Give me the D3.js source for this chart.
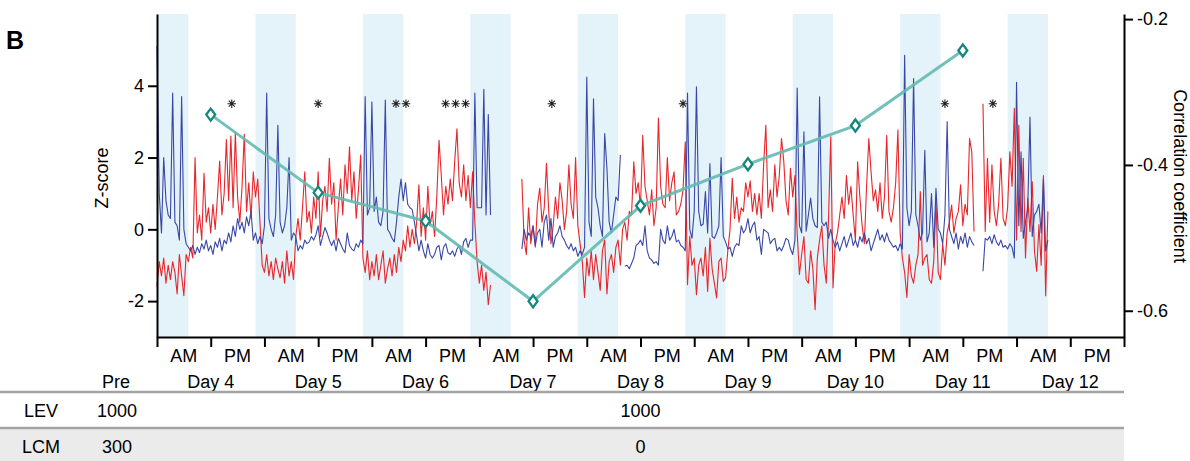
<!DOCTYPE html>
<html>
<head>
<meta charset="utf-8">
<script src="https://cdn.jsdelivr.net/npm/d3@7"></script>
<style>
  body { margin: 0; background: #fff; }
  svg { display: block; font-family: "Liberation Sans", Arial, sans-serif; }
</style>
</head>
<body>
<svg width="1190" height="461"></svg>
<script>
// ---- data ----
var dayNames = ["Day 4", "Day 5", "Day 6", "Day 7", "Day 8", "Day 9", "Day 10", "Day 11", "Day 12"];
var halfDayNames = ["AM", "PM"];
var halfDayEdges = [0, 12, 24, 36, 48, 60, 72, 84, 96, 108, 120, 132, 144, 156, 168, 180, 192, 204, 216];

// lights-off periods (hours from Day 4 00:00)
var darkPhases = [[-2, 7], [22, 31], [46, 55], [70, 79], [94, 103], [118, 127], [142, 151], [166, 175], [190, 199]];

// z-scores sampled every half hour from Day 4 00:00 (null = no recording)
var sampleStep = 0.5;
var blueZ = [
  5.1,1.0,-0.1,2.0,0.8,0.4,0.3,3.8,0.2,0.1,-0.3,3.7,
  0.0,-0.4,-0.5,-0.6,-0.45,-0.7,-0.5,-0.65,-0.4,-0.55,-0.3,-0.6,
  -0.45,-0.7,-0.35,-0.5,-0.25,-0.6,-0.3,-0.4,-0.1,-0.35,0.1,-0.2,
  0.3,0.0,0.2,-0.1,0.35,0.1,0.5,-0.3,-0.1,-0.4,-0.2,-0.4,
  0.1,3.8,0.3,0.0,-0.2,0.4,2.9,0.2,-0.1,0.1,0.6,2.0,
  -0.3,-0.1,-0.2,-0.6,-0.45,-0.55,-0.3,-0.4,-0.35,-0.2,-0.3,-0.15,
  0.1,-0.45,-0.2,0.05,-0.1,-0.3,-0.45,-0.3,-0.6,-0.25,-0.4,-0.55,
  -0.65,-0.1,-0.45,-0.55,-0.6,-0.4,-0.5,-0.3,-0.4,3.7,0.4,0.6,
  3.55,0.5,0.9,0.2,0.1,0.5,3.6,0.0,-0.1,-0.25,-0.35,0.2,
  0.9,1.4,0.8,1.3,0.7,0.6,0.55,0.2,-0.2,-0.6,-0.3,-0.6,
  -0.8,-0.4,-0.7,-0.8,-0.7,-0.5,-0.45,-0.85,-0.5,-0.4,-0.65,-0.7,
  -0.6,-0.75,-0.55,-0.45,-0.7,-0.35,-0.25,-0.5,-0.3,-0.3,3.8,0.6,
  0.6,0.6,3.9,0.4,3.2,0.4,null,null,null,null,null,null,
  null,null,null,null,null,null,null,-0.55,0.0,-0.3,-0.1,-0.2,
  0.1,-0.45,-0.1,0.0,-0.5,0.2,0.4,-0.3,0.3,-0.5,-0.2,-0.1,
  0.1,-0.2,-0.3,-0.45,-0.55,-0.4,-0.6,-0.5,-0.75,-0.6,-0.7,-0.5,
  4.24,0.2,-0.2,3.64,0.9,0.6,0.1,-0.2,2.67,1.7,0.2,-0.1,
  0.4,0.9,0.8,2.07,null,-1.03,-1.0,-1.1,-0.95,-0.8,-0.45,-0.4,
  -0.3,-0.45,0.1,-0.6,-0.8,-0.85,-0.95,-0.9,-1.0,0.0,-0.3,-0.4,
  0.1,-0.3,-0.2,0.0,-0.35,-0.3,-0.45,-0.5,-0.6,3.8,0.0,-0.25,
  0.5,3.97,0.5,0.1,0.15,1.05,-0.1,1.83,-0.2,-0.25,-0.1,0.1,
  2.0,-0.2,-0.35,-0.55,-0.5,-0.75,-0.5,-0.4,-0.45,0.1,-0.1,0.0,
  0.3,-0.1,0.1,0.2,-0.3,-0.2,-0.7,0.0,-0.05,-0.1,-0.4,-0.3,
  -0.25,-0.6,-0.5,-0.6,-0.45,-0.25,-0.3,-0.55,-0.7,-0.3,3.94,0.1,
  -0.1,2.72,-0.05,0.4,0.87,0.3,0.1,0.05,3.69,0.2,0.1,0.2,
  -0.25,0.0,-0.3,-0.5,-0.35,-0.6,-0.4,-0.2,-0.5,-0.3,-0.1,-0.45,
  -0.3,-0.5,-0.2,-0.35,-0.1,-0.4,-0.25,-0.6,-0.4,-0.2,0.0,-0.3,
  -0.15,-0.35,-0.1,-0.3,-0.4,-0.5,-0.45,-0.6,-0.4,-0.55,4.85,0.6,
  0.1,0.5,4.2,0.4,0.1,-0.3,-0.1,2.2,-0.35,-0.1,1.0,-0.5,
  1.14,0.0,-0.1,-0.4,0.4,3.0,0.0,-0.2,-0.4,-0.1,-0.55,-0.2,
  -0.4,-0.1,-0.5,-0.2,-0.35,-0.45,null,null,null,-1.17,-0.25,-0.3,
  -0.2,-0.4,-0.15,-0.35,-0.45,-0.3,-0.5,-0.45,-0.55,-0.4,-0.5,-0.8,
  4.1,0.1,2.16,-0.25,0.2,0.6,3.13,-0.2,0.4,0.5,0.7,-0.1,1.4,-0.6,-0.3
];
var redZ = [
  -1.6,-0.9,-1.3,-0.8,-1.5,-1.0,-1.4,-0.9,-1.2,-1.8,-0.7,-1.3,
  -1.85,-0.7,-0.9,-0.5,-0.8,2.0,-0.1,0.4,-0.3,1.56,0.2,0.6,
  -0.1,0.7,0.0,0.9,1.9,0.4,1.0,2.5,0.8,2.6,0.6,2.7,
  0.9,0.2,1.2,2.65,0.5,1.3,0.3,1.6,0.9,1.4,0.2,-1.0,
  -1.2,-0.7,-1.3,-0.9,-1.4,-0.8,-1.1,-1.35,-0.9,-1.5,-0.6,-1.3,
  -0.9,-1.4,-0.2,0.3,-0.3,0.6,1.6,0.2,0.5,-0.1,0.9,0.3,
  1.6,-0.2,0.8,1.2,0.5,1.98,0.7,1.3,-0.3,0.6,1.4,0.4,
  1.8,1.0,2.3,0.8,1.6,0.3,1.1,2.07,-0.8,-1.2,-0.6,-1.4,
  -0.9,-1.3,-0.7,-1.4,-1.0,-0.6,-1.5,-1.1,-0.8,-1.3,-0.7,-1.2,
  -0.5,-0.9,-0.3,-0.6,0.1,-0.5,0.0,-0.4,0.2,1.24,-0.2,0.6,
  -0.3,1.2,0.1,0.5,-0.2,0.9,2.48,1.5,0.4,1.2,0.7,1.4,
  0.8,1.9,2.8,1.3,0.9,1.8,0.8,1.5,0.6,1.6,0.2,-0.9,
  -1.5,-1.0,-1.7,-1.2,-2.1,-1.55,null,null,null,null,null,null,
  null,null,null,null,null,null,null,1.4,-0.3,-0.7,0.6,-0.4,
  0.1,-0.5,0.7,1.15,0.2,0.6,1.84,0.5,-0.4,0.1,0.9,0.3,
  1.3,0.8,0.0,0.5,1.8,0.7,0.3,2.0,0.1,-0.4,-0.9,-1.9,
  -0.8,-1.3,-0.6,-1.4,-0.7,-1.2,-1.7,-0.6,-0.3,-1.8,-0.9,-0.7,
  -1.2,-0.5,-0.3,-1.0,0.0,0.2,-0.3,0.5,0.4,1.88,1.0,1.3,
  0.6,2.62,1.2,0.8,0.4,1.1,0.1,0.6,3.1,1.2,0.7,0.6,
  2.0,0.8,1.3,1.6,0.4,0.5,0.7,1.1,2.44,-1.54,-0.2,-1.0,
  -0.8,-1.82,-1.0,-0.8,-1.3,-0.5,-1.73,-0.25,-1.1,-1.5,-1.91,-0.9,
  -0.8,-1.45,-1.35,-0.6,0.0,1.42,0.3,0.9,0.2,0.6,0.5,1.3,
  0.9,1.35,0.5,1.0,0.4,1.0,0.3,1.8,2.9,0.6,1.1,0.5,
  1.8,0.9,1.5,2.53,1.9,0.8,0.4,1.7,0.9,1.5,-0.1,-1.26,
  -0.7,-0.2,-1.4,-1.5,-0.6,-1.1,-2.24,-0.8,-0.3,0.1,-1.0,-1.5,
  0.3,2.58,-1.63,-0.4,-0.1,0.4,0.9,0.3,1.5,0.7,1.2,0.4,
  -0.3,1.88,0.9,0.1,-0.4,1.2,2.53,1.6,0.8,1.1,0.5,1.3,
  0.3,0.9,2.62,0.5,0.2,0.6,1.3,2.77,-0.1,-0.8,-1.2,-1.9,
  -0.7,-1.3,-1.5,-1.0,-0.7,1.05,-1.0,-0.8,-0.7,-1.4,-1.5,-0.9,
  0.77,-1.2,-1.4,-0.4,-1.0,-0.1,0.2,0.68,-0.1,0.3,0.5,1.24,
  0.1,0.7,0.4,2.53,2.16,-0.06,null,null,null,3.5,-0.06,1.98,
  0.2,1.8,0.5,0.1,0.7,1.98,0.3,0.1,0.6,2.16,1.2,3.37,
  -0.3,2.9,-0.06,1.98,-0.8,0.87,-0.06,1.33,-0.6,-1.17,0.13,-1.0,1.5,-1.85,0.5
];

// correlation coefficient, one value per half-day midpoint
var corrHours = [12, 36, 60, 84, 108, 132, 156, 180];
var corrValues = [-0.331, -0.438, -0.477, -0.587, -0.456, -0.399, -0.346, -0.243];

// significance marks
var starHours = [16.7, 36, 54.5, 66.7, 88.2, 117.5, 176, 186.7];
var starCounts = [1, 1, 2, 3, 1, 1, 1, 1];
var starLevel = 3.5;

var zTicks = [-2, 0, 2, 4];
var corrTicks = [-0.6, -0.4, -0.2];

// dosing table
var tableNames = ["LEV", "LCM"];
var tablePre = ["1000", "300"];
var tablePost = ["1000", "0"];
var tablePostHour = 108;

// ---- drawing ----
var svg = d3.select("svg"),
	width = +svg.attr("width"),
	height = +svg.attr("height");

var x = d3.scaleLinear().domain([0, 216]).range([157, 1124]);
var y = d3.scaleLinear().domain([-3, 6]).range([337, 14]);
var yCorr = d3.scaleLinear().domain([-0.636, -0.193]).range([337, 14]);

// dark-phase bands
svg.append("g")
	.selectAll("rect")
	.data(darkPhases)
	.enter()
	.append("rect")
		.attr("x", d => x(Math.max(0, d[0])))
		.attr("width", d => x(d[1]) - x(Math.max(0, d[0])))
		.attr("y", y(6))
		.attr("height", y(-3) - y(6))
		.attr("fill", "#e4f2f9");

// time series
var line = d3.line()
	.defined(d => d != null)
	.x((d, i) => x(i * sampleStep))
	.y(d => y(d));

svg.append("path")
	.datum(redZ)
	.attr("fill", "none")
	.attr("stroke", "#e8262b")
	.attr("stroke-width", 1.1)
	.attr("stroke-linejoin", "round")
	.attr("d", line);

svg.append("path")
	.datum(blueZ)
	.attr("fill", "none")
	.attr("stroke", "#3947a6")
	.attr("stroke-width", 1.1)
	.attr("stroke-linejoin", "round")
	.attr("d", line);

// correlation line
var corrData = corrHours.map((h, i) => [h, corrValues[i]]);
svg.append("path")
	.datum(corrData)
	.attr("fill", "none")
	.attr("stroke", "#63bab1")
	.attr("stroke-opacity", 0.9)
	.attr("stroke-width", 3)
	.attr("stroke-linejoin", "round")
	.attr("d", d3.line()
		.x(d => x(d[0]))
		.y(d => yCorr(d[1])));

// tall diamond marker
var tallDiamond = {
	draw: function(ctx, size) {
		var w = Math.sqrt(size) / 2, h = w * 1.35;
		ctx.moveTo(0, -h); ctx.lineTo(w, 0); ctx.lineTo(0, h); ctx.lineTo(-w, 0); ctx.closePath();
	}
};
svg.append("g")
	.selectAll("path")
	.data(corrData)
	.enter()
	.append("path")
		.attr("transform", d => "translate(" + x(d[0]) + "," + yCorr(d[1]) + ")")
		.attr("d", d3.symbol().type(tallDiamond).size(80))
		.attr("fill", "#fff")
		.attr("stroke", "#13877c")
		.attr("stroke-width", 2.3);

// asterisks
var asterisk = {
	draw: function(ctx, size) {
		var r = Math.sqrt(size) / 2;
		for (var k = 0; k < 4; k++) {
			var a = k * Math.PI / 4;
			ctx.moveTo(-r * Math.cos(a), -r * Math.sin(a));
			ctx.lineTo(r * Math.cos(a), r * Math.sin(a));
		}
	}
};
var starPoints = [];
starHours.forEach(function(h, i) {
	for (var k = 0; k < starCounts[i]; k++) {
		starPoints.push({ h: h, off: (k - (starCounts[i] - 1) / 2) * 10 });
	}
});
svg.append("g")
	.selectAll("path")
	.data(starPoints)
	.enter()
	.append("path")
		.attr("transform", d => "translate(" + (x(d.h) + d.off) + "," + y(starLevel) + ")")
		.attr("d", d3.symbol().type(asterisk).size(72))
		.attr("stroke", "#222")
		.attr("stroke-width", 1.1);

// axes
function styleAxis(g) {
	g.attr("font-size", 18).attr("font-family", "Liberation Sans, Arial, sans-serif");
	g.select(".domain").attr("stroke", "#000").attr("stroke-width", 2);
	g.selectAll(".tick line").attr("stroke", "#000").attr("stroke-width", 2);
	g.selectAll(".tick text").attr("fill", "#000");
}

svg.append("g")
	.attr("transform", "translate(" + x(0) + ",0)")
	.call(d3.axisLeft(y).tickValues(zTicks).tickSize(9).tickSizeOuter(0).tickPadding(4).tickFormat(d => String(d)))
	.call(styleAxis);

svg.append("g")
	.attr("transform", "translate(" + x(216) + ",0)")
	.call(d3.axisRight(yCorr).tickValues(corrTicks).tickSize(9).tickSizeOuter(0).tickPadding(4).tickFormat(d => String(d)))
	.call(styleAxis);

svg.append("g")
	.attr("transform", "translate(0," + y(-3) + ")")
	.call(d3.axisBottom(x).tickValues(halfDayEdges).tickSize(10).tickSizeOuter(0).tickFormat(""))
	.call(styleAxis);

// AM / PM labels and day labels
var halfDays = [];
dayNames.forEach(function(name, i) {
	halfDayNames.forEach(function(hn, j) { halfDays.push({ h: i * 24 + j * 12 + 6, label: hn }); });
});
svg.append("g")
	.selectAll("text")
	.data(halfDays)
	.enter()
	.append("text")
		.attr("x", d => x(d.h))
		.attr("y", 362)
		.attr("text-anchor", "middle")
		.attr("font-size", 18)
		.text(d => d.label);

svg.append("g")
	.selectAll("text")
	.data(dayNames)
	.enter()
	.append("text")
		.attr("x", (d, i) => x(i * 24 + 12))
		.attr("y", 388)
		.attr("text-anchor", "middle")
		.attr("font-size", 18)
		.text(d => d);

// axis titles and panel letter
svg.append("text")
	.attr("transform", "translate(108,178) rotate(-90)")
	.attr("text-anchor", "middle")
	.attr("font-size", 18)
	.text("Z-score");

svg.append("text")
	.attr("transform", "translate(1174,176) rotate(90)")
	.attr("text-anchor", "middle")
	.attr("font-size", 18)
	.text("Correlation coefficient");

svg.append("text")
	.attr("x", 6)
	.attr("y", 49)
	.attr("font-size", 25)
	.attr("font-weight", "bold")
	.text("B");

// dosing table
svg.append("text")
	.attr("x", 116)
	.attr("y", 388)
	.attr("text-anchor", "middle")
	.attr("font-size", 18)
	.text("Pre");

svg.append("rect")
	.attr("x", 0).attr("y", 429)
	.attr("width", x(216)).attr("height", height - 429)
	.attr("fill", "#ebebeb");

[392, 428].forEach(function(ly) {
	svg.append("line")
		.attr("x1", 0).attr("x2", x(216))
		.attr("y1", ly).attr("y2", ly)
		.attr("stroke", "#a3a3a3")
		.attr("stroke-width", 2.5);
});

var rows = svg.append("g")
	.selectAll("g")
	.data(tableNames)
	.enter()
	.append("g")
		.attr("transform", (d, i) => "translate(0," + (417 + i * 36) + ")")
		.attr("font-size", 18);
rows.append("text").attr("x", 41).attr("text-anchor", "middle").text(d => d);
rows.append("text").attr("x", 117).attr("text-anchor", "middle").text((d, i) => tablePre[i]);
rows.append("text").attr("x", x(tablePostHour)).attr("text-anchor", "middle").text((d, i) => tablePost[i]);
</script>
</body>
</html>
